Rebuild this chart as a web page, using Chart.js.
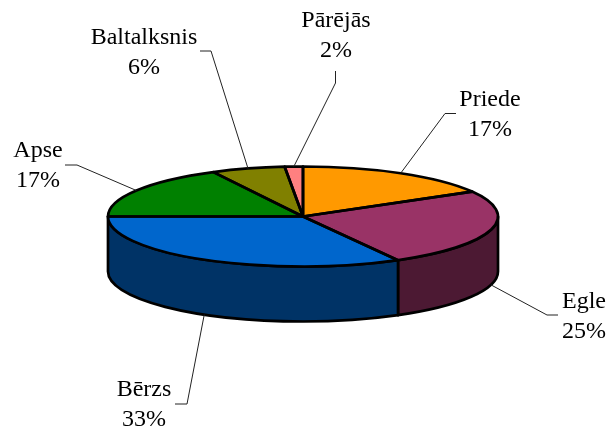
<!DOCTYPE html>
<html lang="lv">
<head>
    <meta charset="UTF-8">
    <title>Koku sugas</title>
    <style>
        body { margin: 0; background-color: white; }
        canvas { display: block; }
    </style>
    <script src="https://cdn.jsdelivr.net/npm/chart.js"></script>
</head>
<body>
    <canvas id="myChart" width="609" height="433"></canvas>

    <script>
        // Data, percent rounded in the labels
        const categories = ['Priede', 'Egle', 'Bērzs', 'Apse', 'Baltalksnis', 'Pārējās'];
        const values = [16.7, 25.2, 33.1, 17.4, 6.1, 1.5];
        const topColors = ['#FF9900', '#993366', '#0066CC', '#008000', '#808000', '#FF8080'];
        const sideColors = ['#804C00', '#4C1933', '#003366', '#004000', '#404000', '#804040'];

        // Fake 3D settings
        const squash = 50 / 195;
        const depth = 55;

        // Label centre x, first baseline y, elbow of the leader line, end of the leader line
        const labelX = [490, 584, 144, 38, 144, 336];
        const labelY = [106, 308, 396, 157, 44, 27];
        const elbows = [[445, 113.5], [547, 315], [187, 404], [77, 165], [211, 51], [335.5, 83]];
        const leaderEnds = [[456, 113.5], [558, 315], [175, 404], [65, 165], [200, 51], [335.5, 71]];

        const pie3d = {
            id: 'pie3d',
            beforeDatasetsDraw(chart) {
                const ctx = chart.ctx;
                const arcs = chart.getDatasetMeta(0).data;

                // side wall, only the part of each slice facing the viewer
                ctx.save();
                ctx.lineWidth = 2.7;
                ctx.strokeStyle = 'black';
                ctx.lineJoin = 'round';
                arcs.forEach((arc, i) => {
                    const a0 = Math.max(arc.startAngle, 0);
                    const a1 = Math.min(arc.endAngle, Math.PI);
                    if (a1 <= a0) return;
                    const rx = arc.outerRadius;
                    const ry = rx * squash;
                    ctx.beginPath();
                    ctx.ellipse(arc.x, arc.y, rx, ry, 0, a0, a1);
                    ctx.ellipse(arc.x, arc.y + depth, rx, ry, 0, a1, a0, true);
                    ctx.closePath();
                    ctx.fillStyle = sideColors[i];
                    ctx.fill();
                    ctx.stroke();
                });
                ctx.restore();

                // squash the arcs the library draws next
                const first = arcs[0];
                ctx.save();
                ctx.translate(first.x, first.y);
                ctx.scale(1, squash);
                ctx.translate(-first.x, -first.y);
            },
            afterDatasetsDraw(chart) {
                const ctx = chart.ctx;
                ctx.restore();

                const arcs = chart.getDatasetMeta(0).data;

                // slice outlines, with an even line width
                ctx.save();
                ctx.lineWidth = 2.7;
                ctx.strokeStyle = 'black';
                ctx.lineJoin = 'round';
                arcs.forEach((arc) => {
                    const rx = arc.outerRadius;
                    ctx.beginPath();
                    ctx.moveTo(arc.x, arc.y);
                    ctx.ellipse(arc.x, arc.y, rx, rx * squash, 0, arc.startAngle, arc.endAngle);
                    ctx.closePath();
                    ctx.stroke();
                });
                ctx.restore();

                // leader lines and labels
                const total = values.reduce((a, b) => a + b, 0);
                ctx.save();
                ctx.font = '24px "Liberation Serif"';
                ctx.textAlign = 'center';
                ctx.fillStyle = 'black';
                ctx.strokeStyle = '#222222';
                ctx.lineWidth = 1;
                arcs.forEach((arc, i) => {
                    const mid = (arc.startAngle + arc.endAngle) / 2;
                    const rx = arc.outerRadius;
                    const tipX = arc.x + Math.cos(mid) * rx;
                    let tipY = arc.y + Math.sin(mid) * rx * squash;
                    if (Math.sin(mid) > 0) tipY += depth;

                    ctx.beginPath();
                    ctx.moveTo(tipX, tipY);
                    ctx.lineTo(elbows[i][0], elbows[i][1]);
                    ctx.lineTo(leaderEnds[i][0], leaderEnds[i][1]);
                    ctx.stroke();

                    ctx.fillText(categories[i], labelX[i], labelY[i]);
                    ctx.fillText(Math.round(values[i] / total * 100) + '%', labelX[i], labelY[i] + 30);
                });
                ctx.restore();
            }
        };

        new Chart(document.getElementById('myChart').getContext('2d'), {
            type: 'pie',
            data: {
                labels: categories,
                datasets: [{
                    data: values,
                    backgroundColor: topColors,
                    borderWidth: 0,
                    clip: false
                }]
            },
            options: {
                responsive: false,
                animation: false,
                radius: 195,
                layout: { padding: { right: 3 } },
                plugins: {
                    legend: { display: false },
                    tooltip: { enabled: false }
                }
            },
            plugins: [pie3d]
        });
    </script>
</body>
</html>
